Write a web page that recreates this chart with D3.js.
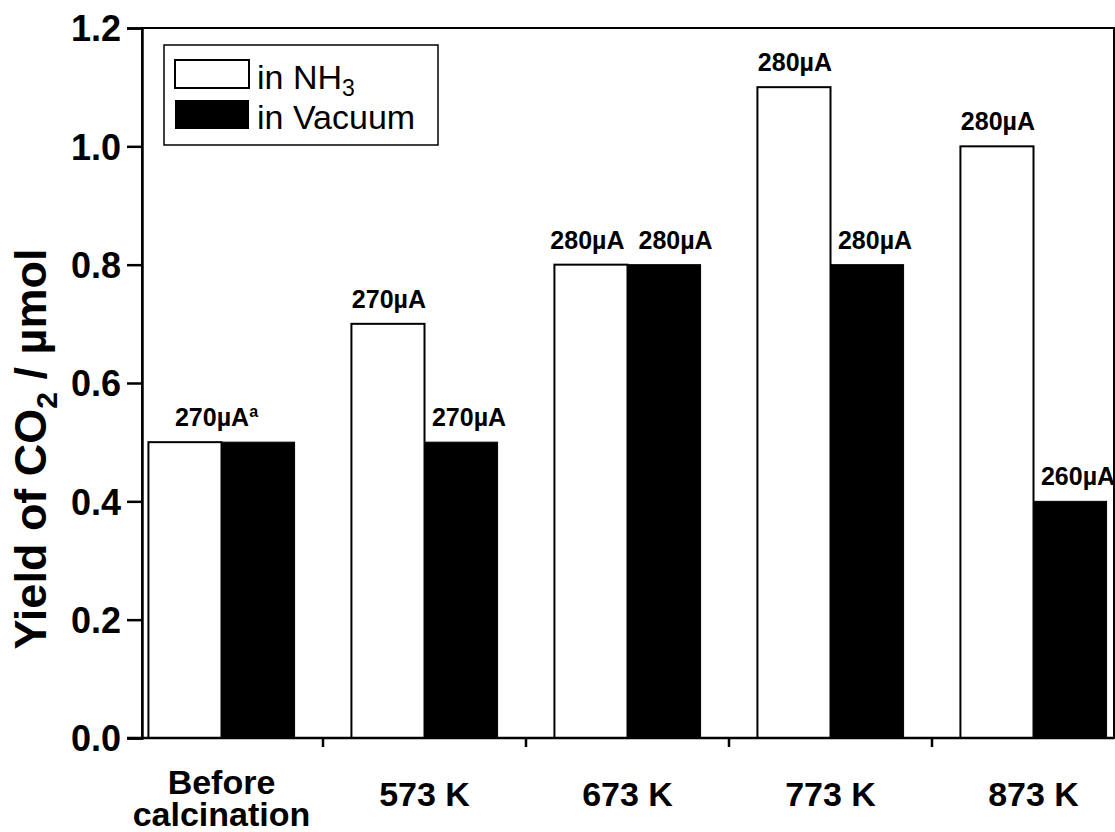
<!DOCTYPE html>
<html>
<head>
<meta charset="utf-8">
<script src="https://cdn.jsdelivr.net/npm/d3@7"></script>
<style>
  body { margin: 0; background: #fff; }
  text { font-family: Arial, "Liberation Sans", sans-serif; }
</style>
</head>
<body>
<script>
// data
let categories = ['Before|calcination', '573 K', '673 K', '773 K', '873 K'];
let nh3Values = [0.5, 0.7, 0.8, 1.1, 1.0];
let vacValues = [0.5, 0.5, 0.8, 0.8, 0.4];
let nh3Labels = ['270µA', '270µA', '280µA', '280µA', '280µA'];
let vacLabels = [null, '270µA', '280µA', '280µA', '260µA'];
let yTicks = [0.0, 0.2, 0.4, 0.6, 0.8, 1.0, 1.2];

let w = 1115, h = 832;
let padLeft = 142, padRight = 1114, padTop = 28, padBottom = 738;

let svg = d3.select('body').append('svg')
  .attr('width', w)
  .attr('height', h);

// band scale spans a bit wider than the frame, like the original
let xScale = d3.scaleBand()
  .domain(d3.range(categories.length))
  .range([120, 1135])
  .padding(0);

let yScale = d3.scaleLinear()
  .domain([0, 1.2])
  .range([padBottom, padTop]);

let bw = xScale.bandwidth() * 0.36;
let cx = i => xScale(i) + xScale.bandwidth() / 2;

// bars
let g = svg.append('g');
g.selectAll('rect.nh3')
  .data(nh3Values)
  .enter().append('rect')
  .attr('class', 'nh3')
  .attr('x', (d, i) => cx(i) - bw)
  .attr('y', d => yScale(d))
  .attr('width', bw)
  .attr('height', d => yScale(0) - yScale(d))
  .attr('fill', '#fff')
  .attr('stroke', '#000')
  .attr('stroke-width', 2);

g.selectAll('rect.vac')
  .data(vacValues)
  .enter().append('rect')
  .attr('class', 'vac')
  .attr('x', (d, i) => cx(i))
  .attr('y', d => yScale(d))
  .attr('width', bw)
  .attr('height', d => yScale(0) - yScale(d))
  .attr('fill', '#000')
  .attr('stroke', '#000')
  .attr('stroke-width', 1);

// bar labels
nh3Values.forEach((v, i) => {
  let vv = vacValues[i];
  let y1 = yScale(v) - 16, y2 = yScale(vv) - 16;
  if (vacLabels[i] == null) {
    // one shared label over the group
    let t = svg.append('text')
      .attr('x', cx(i) - 5).attr('y', y1)
      .attr('text-anchor', 'middle')
      .attr('font-size', 25).attr('font-weight', 'bold')
      .text(nh3Labels[i]);
    t.append('tspan').attr('font-size', 16).attr('dy', -9).text('a');
    return;
  }
  if (v === vv) {
    svg.append('text').attr('x', cx(i) - 3).attr('y', y1)
      .attr('text-anchor', 'end').attr('font-size', 25).attr('font-weight', 'bold')
      .text(nh3Labels[i]);
    svg.append('text').attr('x', cx(i) + 11).attr('y', y2)
      .attr('text-anchor', 'start').attr('font-size', 25).attr('font-weight', 'bold')
      .text(vacLabels[i]);
  } else {
    svg.append('text').attr('x', cx(i) - bw / 2 + 1).attr('y', y1)
      .attr('text-anchor', 'middle').attr('font-size', 25).attr('font-weight', 'bold')
      .text(nh3Labels[i]);
    svg.append('text').attr('x', cx(i) + bw / 2 + 8).attr('y', y2)
      .attr('text-anchor', 'middle').attr('font-size', 25).attr('font-weight', 'bold')
      .text(vacLabels[i]);
  }
});

// frame
svg.append('rect')
  .attr('x', padLeft).attr('y', padTop)
  .attr('width', padRight - padLeft).attr('height', padBottom - padTop)
  .attr('fill', 'none').attr('stroke', '#000').attr('stroke-width', 2);

// y axis
let yAxis = d3.axisLeft(yScale)
  .tickValues(yTicks)
  .tickSize(15)
  .tickPadding(6)
  .tickFormat(d3.format('.1f'));

let ya = svg.append('g')
  .attr('transform', 'translate(' + padLeft + ',0)')
  .call(yAxis);
ya.select('.domain').attr('stroke-width', 2.5);
ya.selectAll('.tick line').attr('stroke-width', 2.5);
ya.selectAll('.tick text')
  .attr('font-size', 36).attr('font-weight', 'bold')
  .attr('font-family', 'Arial, "Liberation Sans", sans-serif')
  .attr('fill', '#000')
  .attr('dy', '0.36em');

// x axis: ticks between the groups
let xa = svg.append('g').attr('transform', 'translate(0,' + padBottom + ')');
xa.append('line')
  .attr('x1', 127).attr('x2', padRight)
  .attr('stroke', '#000').attr('stroke-width', 2.5);
xa.selectAll('line.tk')
  .data(d3.range(1, categories.length))
  .enter().append('line')
  .attr('class', 'tk')
  .attr('x1', i => xScale(i)).attr('x2', i => xScale(i))
  .attr('y1', 0).attr('y2', 9)
  .attr('stroke', '#000').attr('stroke-width', 2.5);

categories.forEach((c, i) => {
  let lines = c.split('|');
  let t = xa.append('text')
    .attr('x', cx(i))
    .attr('text-anchor', 'middle')
    .attr('font-size', 34).attr('font-weight', 'bold');
  if (lines.length === 1) {
    t.attr('y', 68).text(lines[0]);
  } else {
    t.append('tspan').attr('x', cx(i)).attr('y', 56).text(lines[0]);
    t.append('tspan').attr('x', cx(i)).attr('y', 88).text(lines[1]);
  }
});

// y axis title
let yt = svg.append('text')
  .attr('transform', 'translate(46,' + 449 + ') rotate(-90)')
  .attr('text-anchor', 'middle')
  .attr('font-size', 45).attr('font-weight', 'bold');
yt.append('tspan').text('Yield of CO');
yt.append('tspan').attr('font-size', 30).attr('dy', 11).text('2');
yt.append('tspan').attr('dy', -11).text(' / µmol');

// legend
let lg = svg.append('g');
lg.append('rect')
  .attr('x', 164).attr('y', 45).attr('width', 274).attr('height', 100)
  .attr('fill', '#fff').attr('stroke', '#000').attr('stroke-width', 1.5);
lg.append('rect')
  .attr('x', 175).attr('y', 60).attr('width', 74).attr('height', 28)
  .attr('fill', '#fff').attr('stroke', '#000').attr('stroke-width', 2);
lg.append('rect')
  .attr('x', 175).attr('y', 100).attr('width', 74).attr('height', 29)
  .attr('fill', '#000');
let l1 = lg.append('text').attr('x', 257).attr('y', 89).attr('font-size', 34);
l1.append('tspan').text('in NH');
l1.append('tspan').attr('font-size', 23).attr('dy', 7).text('3');
lg.append('text').attr('x', 257).attr('y', 129).attr('font-size', 34).text('in Vacuum');
</script>
</body>
</html>
